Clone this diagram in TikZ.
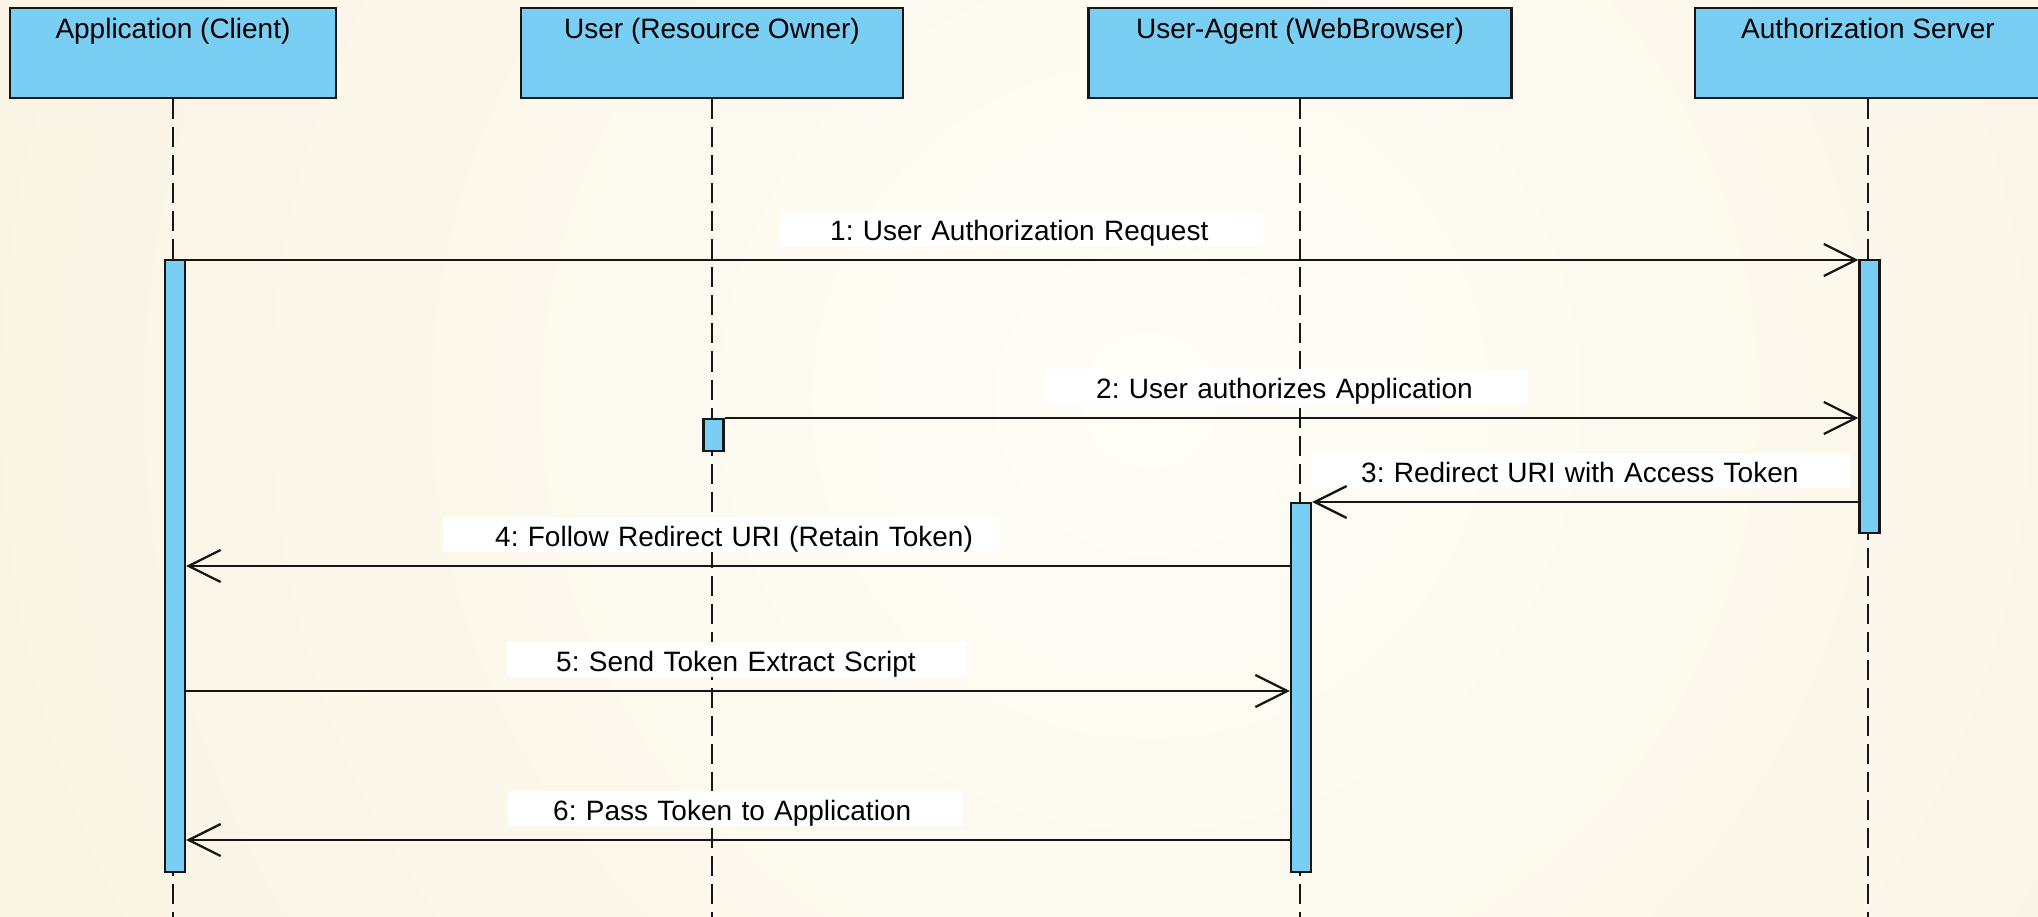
\documentclass[tikz,border=0pt]{standalone}
\usepackage{fontspec}
\setmainfont{Liberation Sans}
\usetikzlibrary{arrows.meta}
\definecolor{bgin}{RGB}{254,253,247}
\definecolor{bgout}{RGB}{246,236,210}
\definecolor{lifeblue}{RGB}{121,206,243}
\definecolor{ink}{RGB}{22,22,22}
\frenchspacing
\begin{document}
\begin{tikzpicture}[x=1pt,y=-1pt,
  font=\fontsize{28}{34}\selectfont,
  head/.style={draw=ink, line width=2.5pt, fill=lifeblue, inner sep=0pt,
    text height=30pt, text depth=60pt, anchor=north},
  actbox/.style={draw=ink, line width=2.2pt, fill=lifeblue, inner sep=0pt,
    minimum width=20pt, anchor=north},
  lifeline/.style={draw=ink, line width=1.8pt, dash pattern=on 20pt off 8pt},
  msg/.style={draw=ink, line width=2.5pt,
    -{Straight Barb[length=32pt,width=32pt,line width=2.3pt]}},
  lbl/.style={fill=white, inner xsep=0pt, inner ysep=0pt, text height=29pt,
    text depth=6pt, align=left, text width=#1, anchor=north west}
]
\useasboundingbox (0,0) rectangle (2038,917);
% background
\begin{scope}
  \clip (0,0) rectangle (2038,917);
  \shade[inner color=bgin, outer color=bgout] (1150,400) circle (2300);
\end{scope}
\coordinate (bottom) at (0,930);
% headers
\node[head, minimum width=326pt] (hApp)  at (173,7)  {Application (Client)};
\node[head, minimum width=382pt] (hUser) at (712,7)  {User (Resource Owner)};
\node[head, minimum width=423pt] (hUA)   at (1300,7) {User-Agent (WebBrowser)};
\node[head, minimum width=346pt] (hAuth) at (1868,7) {Authorization Server};
% lifelines
\foreach \h in {hApp,hUser,hUA,hAuth}
  \draw[lifeline] (\h.south) -- (\h.south |- bottom);
% message y levels
\coordinate (m1) at (0,260);
\coordinate (m2) at (0,418);
\coordinate (m3) at (0,502);
\coordinate (m4) at (0,566);
\coordinate (m5) at (0,691);
\coordinate (m6) at (0,840);
% labels
\node[lbl=483pt] (l1) at (780,211)  {\hspace*{50pt}1: User Authorization Request};
\node[lbl=482pt] (l2) at (1046,369) {\hspace*{50pt}2: User authorizes Application};
\node[lbl=540pt] (l3) at (1311,453) {\hspace*{50pt}3: Redirect URI with Access Token};
\node[lbl=557pt] (l4) at (443,517)  {\hspace*{52pt}4: Follow Redirect URI (Retain Token)};
\node[lbl=459pt] (l5) at (507,642)  {\hspace*{49pt}5: Send Token Extract Script};
\node[lbl=455pt] (l6) at (508,791)  {\hspace*{45pt}6: Pass Token to Application};
% activations
\node[actbox, minimum height=612pt] (aApp)  at (175,259)    {};
\node[actbox, minimum height=273pt] (aAuth) at (1869.5,259) {};
\node[actbox, minimum height=32pt]  (aUser) at (713.5,418)  {};
\node[actbox, minimum height=369pt] (aUA)   at (1301,502)   {};
% messages
\draw[msg] (aApp.east |- m1)  -- (aAuth.west |- m1);
\draw[msg] (aUser.east |- m2) -- (aAuth.west |- m2);
\draw[msg] (aAuth.west |- m3) -- (aUA.east |- m3);
\draw[msg] (aUA.west |- m4)   -- (aApp.east |- m4);
\draw[msg] (aApp.east |- m5)  -- (aUA.west |- m5);
\draw[msg] (aUA.west |- m6)   -- (aApp.east |- m6);
\end{tikzpicture}
\end{document}
